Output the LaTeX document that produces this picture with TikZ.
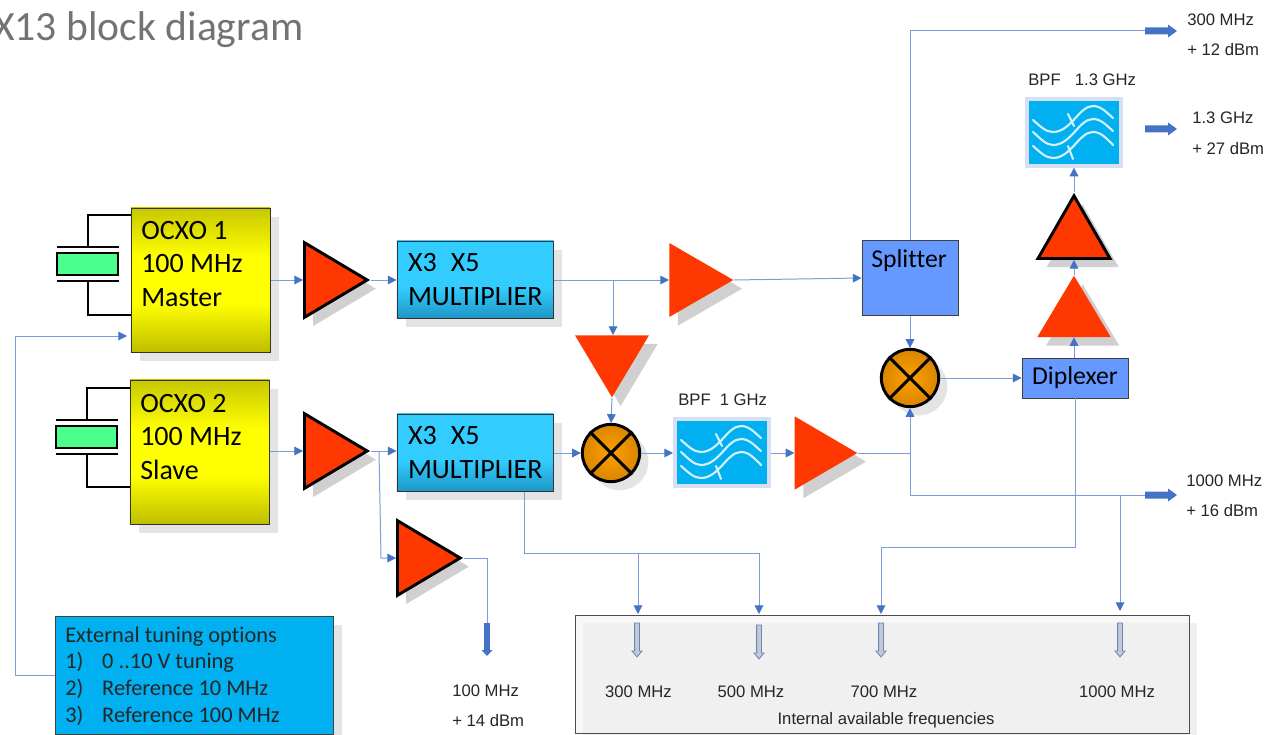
\documentclass[tikz,border=0pt]{standalone}
\usepackage{fontspec}
\setmainfont{Carlito}[Ligatures=NoCommon]
\newfontfamily\arl{Liberation Sans}
\usetikzlibrary{arrows.meta,shapes.geometric,shadows,calc}
\definecolor{wire}{HTML}{7C9CDB}
\definecolor{tipc}{HTML}{4472C4}
\definecolor{redamp}{HTML}{FF3700}
\definecolor{shd}{HTML}{D0D0D0}
\definecolor{shl}{HTML}{E4E4E4}
\definecolor{skyb}{HTML}{00B0F0}
\definecolor{ybot}{HTML}{BDBD00}
\definecolor{ytop}{HTML}{C8C800}
\definecolor{ymid}{HTML}{FFFF00}
\definecolor{mtop}{HTML}{33CCFF}
\definecolor{mbot}{HTML}{1E96C6}
\definecolor{blk}{HTML}{6699FF}
\definecolor{bpfedge}{HTML}{D6E0F2}
\definecolor{txtg}{HTML}{262626}
\definecolor{orin}{HTML}{FFA000}
\definecolor{orout}{HTML}{D98500}
\definecolor{hollow}{HTML}{C4CAD4}
\pgfdeclareverticalshading{multshade}{100bp}{color(0bp)=(mbot); color(25bp)=(mbot); color(45bp)=(mtop); color(100bp)=(mtop)}
\pgfdeclareverticalshading{yelshade}{100bp}{color(0bp)=(ybot); color(25bp)=(ybot); color(42bp)=(ymid); color(58bp)=(ymid); color(75bp)=(ytop); color(100bp)=(ytop)}
\tikzset{
  wirel/.style={draw=wire,line width=0.75pt},
  arr/.style={wirel,-{Triangle[length=6.5pt,width=6.5pt,color=tipc]}},
  amp/.style={isosceles triangle,isosceles triangle stretches,inner sep=0pt,fill=redamp,
    general shadow={fill=shd,shadow xshift=6.5pt,shadow yshift=-6.5pt}},
  ampb/.style={amp,draw=black,line width=2.2pt,line join=miter},
  lbl/.style={font=\arl\fontsize{12.5}{15}\selectfont,text=txtg,inner sep=0pt},
  big/.style={font=\fontsize{21}{25.3}\selectfont,text=black,inner sep=0pt,align=left},
  mid/.style={font=\fontsize{19.3}{23}\selectfont,text=black,inner sep=0pt,align=left},
  ocxo/.style={rectangle,draw=black!80,line width=0.7pt,shading=yelshade,minimum width=104.5pt,minimum height=108.5pt,inner sep=0pt,
    general shadow={fill=shl,shadow xshift=6.5pt,shadow yshift=-6.5pt}},
  mult/.style={rectangle,draw=black!80,line width=0.7pt,shading=multshade,minimum width=117.5pt,minimum height=58pt,inner sep=5pt,
    general shadow={fill=shl,shadow xshift=6.5pt,shadow yshift=-6.5pt}},
  mixer/.style={circle,draw=black,line width=2.2pt,inner color=orin,outer color=orout,minimum size=43pt,inner sep=0pt,
    general shadow={fill=shl,shadow xshift=6.5pt,shadow yshift=-6.5pt}},
  bpf/.style={rectangle,draw=bpfedge,line width=3pt,fill=skyb,minimum width=70.3pt,minimum height=50pt,inner sep=0pt,
    general shadow={fill=black!15,shadow xshift=1pt,shadow yshift=-1pt}},
  bluebox/.style={rectangle,draw=black!75,line width=0.7pt,fill=blk,inner sep=0pt},
  xtalw/.style={draw=black,line width=2.2pt},
  curve/.style={draw=white!82!skyb,line width=1.6pt,line cap=round},
}
\newcommand{\filtercurves}[1]{%
  \begin{scope}[shift={(#1.north west)}]
    \draw[curve] (8,23) .. controls (16,30) and (21,35) .. (28,35) .. controls (46,35) and (54,9) .. (68,9) .. controls (76,9) and (81,15) .. (88,21);
    \draw[curve] (8,35) .. controls (16,42) and (21,48) .. (28,48) .. controls (46,48) and (54,22) .. (68,22) .. controls (76,22) and (81,28) .. (88,34);
    \draw[curve] (8,49) .. controls (16,56) and (21,61) .. (28,61) .. controls (46,61) and (54,35) .. (68,35) .. controls (76,35) and (81,41) .. (88,48);
    \draw[curve] (43,17) -- (49,29);
    \draw[curve] (43,49) -- (48,62);
  \end{scope}}
\newcommand{\crystal}[2]{%
  \draw[draw=black,line width=2.2pt,fill=green!60!white!75!cyan] (#1,#2) rectangle ++(61,22);
  \draw[xtalw] (#1,#2-6) -- ++(62,0);
  \draw[xtalw] (#1,#2+28) -- ++(62,0);
}
\newcommand{\rightbig}[3]{%
  \coordinate (#1) at (#2,#3);
  \fill[tipc,shift={(#1)}] (0,-3.5) -- (23,-3.5) -- (23,-6.5) -- (32,0) -- (23,6.5) -- (23,3.5) -- (0,3.5) -- cycle;
}
\newcommand{\downbig}[3]{%
  \coordinate (#1) at (#2,#3);
  \fill[tipc,shift={(#1)}] (-2.8,0) -- (2.8,0) -- (2.8,27) -- (5.5,27) -- (0,33) -- (-5.5,27) -- (-2.8,27) -- cycle;
}
\newcommand{\downhollow}[3]{%
  \coordinate (#1) at (#2,#3);
  \filldraw[fill=hollow,draw=wire!85!black,line width=0.6pt,shift={(#1)}] (-2.4,0) -- (2.4,0) -- (2.4,28) -- (5,28) -- (0,34) -- (-5,28) -- (-2.4,28) -- cycle;
}
\begin{document}
\begin{tikzpicture}[x=0.75pt,y=-0.75pt]
\useasboundingbox (0,0) rectangle (1265,735);
\clip (0,0) rectangle (1265,735);
\fill[white] (0,0) rectangle (1265,735);

\node[anchor=west,inner sep=0pt,font=\fontsize{31.2}{34}\selectfont,text=black!55] (title) at (-7,30) {X13 block diagram};

% frame of internal frequencies
\node[rectangle,fill=black!3,minimum width=460.5pt,minimum height=88.8pt,anchor=north west,inner sep=0pt,outer sep=0pt] (frame) at (575,615) {};
\fill[black!6] (583,623) rectangle (1197,740);
\draw[black!70,line width=0.7pt] (frame.north west) rectangle (frame.south east);

% crystals and wires
\crystal{57}{253}
\crystal{56}{426}
\coordinate (x1t) at (88,247); \coordinate (x1b) at (88,281);
\coordinate (x2t) at (87,420); \coordinate (x2b) at (87,454);

% boxes
\node[ocxo,anchor=north west] (ocxoa) at (130.5,207.5) {};
\node[ocxo,anchor=north west] (ocxob) at (129.5,379.5) {};
\draw[xtalw] (x1t) -- (88,215) -- (ocxoa.west |- 88,215);
\draw[xtalw] (x1b) -- (88,315) -- (ocxoa.west |- 88,315);
\draw[xtalw] (x2t) -- (87,388) -- (ocxob.west |- 87,388);
\draw[xtalw] (x2b) -- (87,487) -- (ocxob.west |- 87,487);
\node[big,anchor=west] (ocxoat) at (141,264) {OCXO 1\\100 MHz\\Master};
\node[big,anchor=west] (ocxobt) at (140,437) {OCXO 2\\100 MHz\\Slave};

\node[mult,anchor=north west,big] (multa) at (396.5,240.5) {X3\hspace{10.5pt}X5\\MULTIPLIER};
\node[mult,anchor=north west,big] (multb) at (396.5,413.5) {X3\hspace{10.5pt}X5\\MULTIPLIER};

\node[bluebox,minimum width=72pt,minimum height=56.5pt,anchor=north west] (split) at (861.5,239.5) {};
\node[mid,anchor=west] (splitt) at (871,261) {Splitter};
\node[bluebox,mid,align=center,minimum width=79.5pt,minimum height=30pt,anchor=north west] (dipl) at (1021.5,357.5) {Diplexer};

% amplifiers
\node[ampb,shape border rotate=0,minimum width=56pt,minimum height=47pt,anchor=apex] (ampa) at (371,280) {};
\node[amp,shape border rotate=0,minimum width=55.5pt,minimum height=48pt,anchor=apex] (ampb) at (734,280) {};
\node[amp,shape border rotate=270,minimum width=55.5pt,minimum height=46.5pt,anchor=apex] (ampc) at (612,398) {};
\node[ampb,shape border rotate=0,minimum width=56pt,minimum height=47pt,anchor=apex] (ampd) at (371,451) {};
\node[amp,shape border rotate=0,minimum width=55pt,minimum height=47pt,anchor=apex] (ampe) at (858,453) {};
\node[ampb,shape border rotate=0,minimum width=56pt,minimum height=47pt,anchor=apex] (ampf) at (464,558) {};
\node[ampb,shape border rotate=90,minimum width=54pt,minimum height=47pt,anchor=apex] (ampg) at (1074,192) {};
\node[amp,shape border rotate=90,minimum width=55pt,minimum height=46pt,anchor=apex] (amph) at (1074,275) {};

% mixers
\node[mixer] (mixa) at (611,453) {};
\node[mixer] (mixb) at (910,378) {};
\foreach \m in {mixa,mixb}{
  \draw[black,line width=2.2pt] (\m.45) -- (\m.225);
  \draw[black,line width=2.2pt] (\m.135) -- (\m.315);
}

% filters
\node[bpf,anchor=north west] (bpfa) at (673,417) {};
\node[bpf,anchor=north west] (bpfb) at (1025,97) {};
\filtercurves{bpfa}
\filtercurves{bpfb}

% tuning box
\node[rectangle,draw=black!75,line width=0.7pt,fill=skyb,minimum width=209pt,minimum height=89pt,anchor=north west,inner sep=0pt,
  general shadow={fill=shl,shadow xshift=6.5pt,shadow yshift=-6.5pt}] (tune) at (54.5,615.5) {};
\node[anchor=west,inner sep=0pt,font=\fontsize{16.8}{20}\selectfont,text=txtg,align=left] (tunet) at (65,676) {External tuning options\\\makebox[27.75pt][l]{1)}0 ..10 V tuning\\\makebox[27.75pt][l]{2)}Reference 10 MHz\\\makebox[27.75pt][l]{3)}Reference 100 MHz};

% output arrows
\rightbig{outa}{1145}{31}
\rightbig{outb}{1145}{129}
\rightbig{outc}{1145}{495}
\downbig{outd}{487}{623}

% internal arrows
\downhollow{ia}{637}{623}
\downhollow{ib}{759}{625}
\downhollow{ic}{881}{623}
\downhollow{id}{1120}{623}

% connector helper points
\coordinate (bma) at (613,280);
\coordinate (bmb) at (379,451);
\coordinate (je) at (910,453);
\coordinate (jo) at (910,495);
\coordinate (jt) at (1120,495);
\coordinate (jm) at (638,553);
\coordinate (ifa) at (638,614);
\coordinate (ifb) at (759,614);
\coordinate (ifc) at (881,614);
\coordinate (ifd) at (1120,611);
\coordinate (tn) at (127,336);

% connectors
\draw[arr] (ocxoa.east |- ampa.apex) -- (ampa.lower side);
\draw[arr] (ampa.apex) -- (multa.west |- ampa.apex);
\draw[arr] (multa.east |- ampb.apex) -- (ampb.lower side);
\draw[arr] (ampb.apex) -- (split.west |- 862,278);
\draw[arr] (bma) -- (bma |- ampc.lower side);
\draw[arr] (ampc.apex) -- (mixa.north);
\draw[arr] (ocxob.east |- ampd.apex) -- (ampd.lower side);
\draw[arr] (ampd.apex) -- (multb.west |- ampd.apex);
\draw[arr] (bmb) -- (381,558) -- (ampf.lower side);
\draw[wirel] (ampf.apex) -- (487,558) -- (outd);
\draw[arr] (multb.east |- mixa.west) -- (mixa.west);
\draw[arr] (mixa.east) -- (bpfa.west |- mixa.east);
\draw[arr] (bpfa.east |- ampe.apex) -- (ampe.lower side);
\draw[wirel] (ampe.apex) -- (je);
\draw[arr] (je) -- (mixb.south);
\draw[wirel] (je) -- (jo);
\draw[wirel] (jo) -- (outc);
\draw[arr] (jt) -- (ifd);
\draw[arr] (split.south -| mixb.north) -- (mixb.north);
\draw[wirel] (split.north -| mixb.north) -- (910,31) -- (outa);
\draw[arr] (mixb.east) -- (dipl.west |- mixb.east);
\draw[arr] (dipl.north -| amph.apex) -- (amph.lower side);
\draw[arr] (amph.apex) -- (ampg.lower side);
\draw[arr] (ampg.apex) -- (bpfb.south -| ampg.apex);
\draw[arr] (dipl.south -| 1075,398) -- (1075,547) -- (881,547) -- (ifc);
\draw[arr] (multb.south -| 524,491) -- (524,553) -- (759,553) -- (ifb);
\draw[arr] (jm) -- (ifa);
\draw[arr] (tune.west |- 55,675) -- (15,675) -- (15,336) -- (tn);

% labels
\node[lbl,anchor=west] (la1) at (1187,20) {300 MHz};
\node[lbl,anchor=west] (la2) at (1187,50) {+ 12 dBm};
\node[lbl,anchor=west] (lb0) at (1028,80) {BPF\hspace{0.85em}1.3 GHz};
\node[lbl,anchor=west] (lb1) at (1192,118) {1.3 GHz};
\node[lbl,anchor=west] (lb2) at (1192,149) {+ 27 dBm};
\node[lbl,anchor=west] (lc0) at (678,400) {BPF\hspace{0.55em}1 GHz};
\node[lbl,anchor=west] (lc1) at (1186,481) {1000 MHz};
\node[lbl,anchor=west] (lc2) at (1186,511) {+ 16 dBm};
\node[lbl,anchor=west] (ld1) at (452,691) {100 MHz};
\node[lbl,anchor=west] (ld2) at (452,721) {+ 14 dBm};
\node[lbl,anchor=center] (fa) at (638.5,692) {300 MHz};
\node[lbl,anchor=center] (fb) at (751,692) {500 MHz};
\node[lbl,anchor=center] (fc) at (884,692) {700 MHz};
\node[lbl,anchor=center] (fd) at (1117,692) {1000 MHz};
\node[lbl,anchor=center] (fe) at (886,720) {Internal available frequencies};
\end{tikzpicture}
\end{document}
